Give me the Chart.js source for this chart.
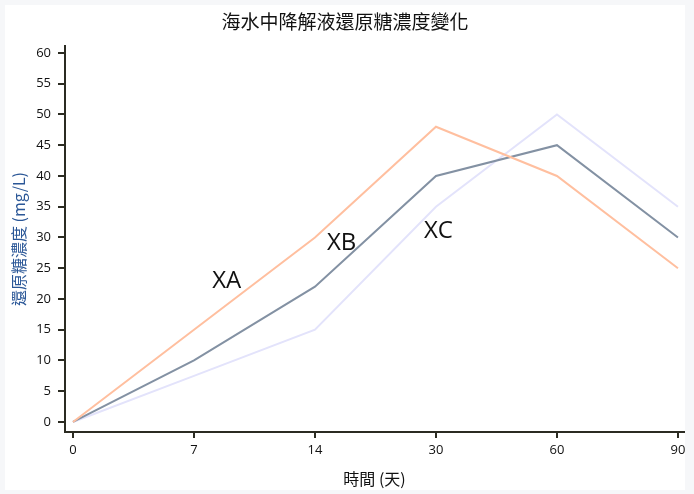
<!DOCTYPE html>
<html>
<head>
<meta charset="utf-8">
<script src="https://cdn.jsdelivr.net/npm/chart.js@4"></script>
<style>
	body { margin: 0; background: #f6f7f9; }
	#box { position: absolute; left: 5px; top: 5px; width: 680px; height: 485px; background: #ffffff; }
</style>
</head>
<body>
<div id="box"><canvas id="sugarChart" width="680" height="485"></canvas></div>
<script>
const days = ["0", "7", "14", "30", "60", "90"];
const seriesNames = ["XA", "XB", "XC"];
const xaValues = [0, 15, 30, 48, 40, 25];
const xbValues = [0, 10, 22, 40, 45, 30];
const xcValues = [0, 7.5, 15, 35, 50, 35];
const yTicks = [0, 5, 10, 15, 20, 25, 30, 35, 40, 45, 50, 55, 60];
// where the series names sit, in data units (x = day index, y = mg/L)
const labelAtX = [1.27, 2.22, 3.02];
const labelAtY = [22.9, 29.1, 31.1];

const latin = "'Open Sans', 'Noto Sans CJK TC', sans-serif";
const cjk = "'Noto Sans CJK TC', 'Noto Sans', sans-serif";

const toPoints = (vals) => vals.map((v, i) => ({ x: i, y: v }));

// title + series names drawn onto the canvas
const textPlugin = {
	id: "textPlugin",
	afterDatasetsDraw(chart) {
		const c = chart.ctx;
		const xs = chart.scales.x;
		const ys = chart.scales.y;
		c.save();
		c.fillStyle = "#111";
		c.textAlign = "center";
		c.textBaseline = "middle";
		c.font = "19px " + cjk;
		c.fillText("海水中降解液還原糖濃度變化", chart.width / 2, 17);
		c.font = "24px " + latin;
		seriesNames.forEach((name, i) => {
			c.fillText(name, xs.getPixelForValue(labelAtX[i]), ys.getPixelForValue(labelAtY[i]));
		});
		c.restore();
	},
};

const ctx = document.getElementById("sugarChart").getContext("2d");
const sugarChart = new Chart(ctx, {
	type: "line",
	data: {
		datasets: [
			{ label: "XA", data: toPoints(xaValues), borderColor: "#ffbf9f" },
			{ label: "XB", data: toPoints(xbValues), borderColor: "#8391a3" },
			{ label: "XC", data: toPoints(xcValues), borderColor: "#e3e3fb" },
		].map((d) => Object.assign(d, { borderWidth: 2, pointRadius: 0, tension: 0, fill: false })),
	},
	options: {
		responsive: false,
		animation: false,
		layout: { padding: { top: 41, right: 1, left: 0, bottom: 0 } },
		scales: {
			x: {
				type: "linear",
				min: -0.066,
				max: 5.05,
				afterFit: (s) => {
					s.height = 58;
					s.paddingLeft = 0;
					s.paddingRight = 0;
				},
				border: { color: "#2b2b22", width: 2 },
				grid: { drawOnChartArea: false, color: "#2b2b22", lineWidth: 2, tickLength: 6 },
				ticks: {
					stepSize: 1,
					includeBounds: false,
					padding: 4,
					color: "#111",
					font: { family: latin, size: 13 },
					callback: (v) => days[v],
				},
				title: {
					display: true,
					text: "時間 (天)",
					color: "#111",
					font: { family: cjk, size: 16 },
					padding: { top: 0, bottom: 1 },
				},
			},
			y: {
				type: "linear",
				min: -1.63,
				max: 61.13,
				afterFit: (s) => {
					s.width = 60;
					s.paddingTop = 0;
					s.paddingBottom = 0;
				},
				afterBuildTicks: (s) => { s.ticks = yTicks.map((v) => ({ value: v })); },
				border: { color: "#2b2b22", width: 2 },
				grid: { drawOnChartArea: false, color: "#2b2b22", lineWidth: 2, tickLength: 7 },
				ticks: {
					stepSize: 5,
					includeBounds: false,
					padding: 7,
					color: "#111",
					font: { family: latin, size: 13 },
				},
				title: {
					display: true,
					text: "還原糖濃度 (mg/L)",
					color: "#2b5797",
					font: { family: cjk, size: 16 },
					padding: { top: 4, bottom: 0 },
				},
			},
		},
		plugins: {
			legend: { display: false },
			tooltip: { enabled: false },
		},
	},
	plugins: [textPlugin],
});
</script>
</body>
</html>
